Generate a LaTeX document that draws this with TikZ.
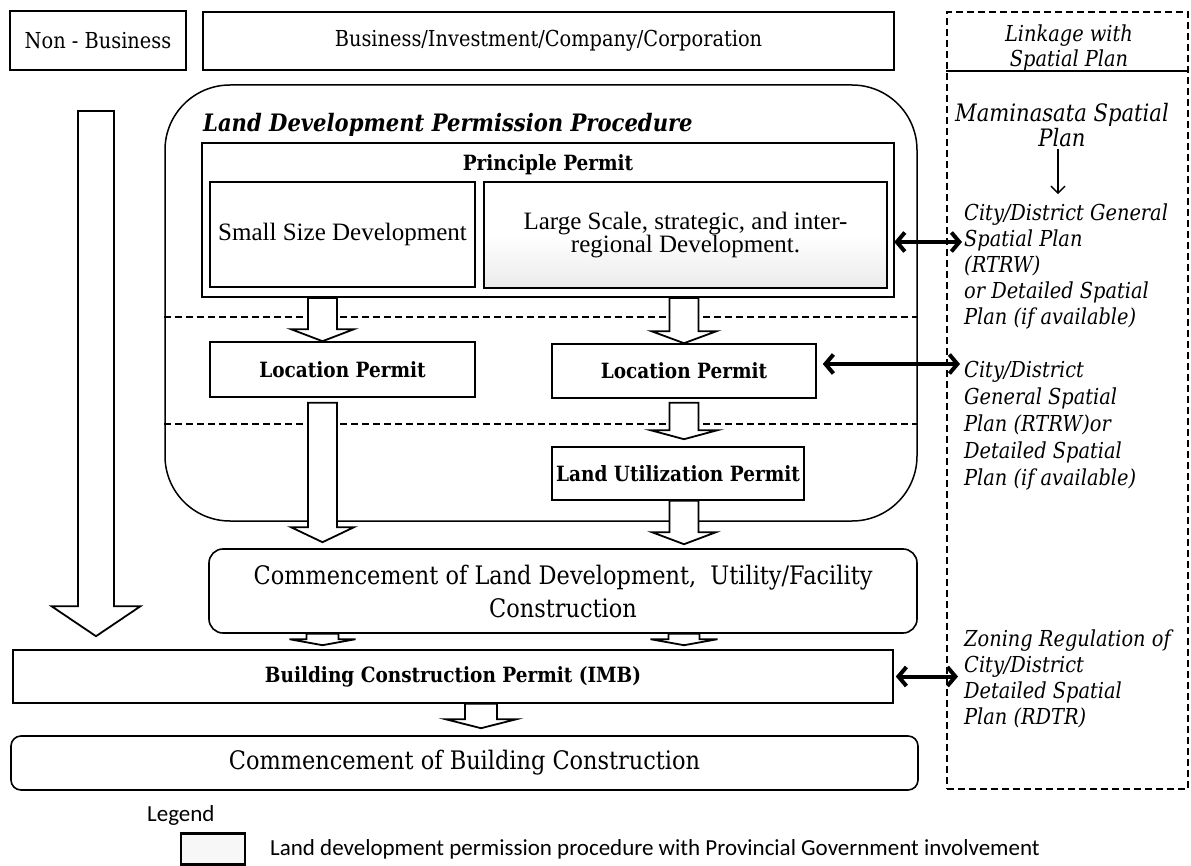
\documentclass[tikz,border=0pt]{standalone}
\usepackage{fontspec}
\setmainfont{DejaVu Serif}[FakeStretch=0.88]
\newfontfamily\timesfont{Liberation Serif}
\newfontfamily\legendfont{Carlito}
\usetikzlibrary{calc,arrows.meta}
\newcommand\setfs[2]{\fontsize{#1}{#2}\selectfont}

% hollow block arrow: #1 top point, #2 tip, #3 shaft half width, #4 head half width, #5 head length
\newcommand\blockarr[5]{%
  \draw[blockline] let \p1=(#1), \p2=(#2) in
    ({\x1-#3},\y1) -- ({\x1-#3},{\y2+#5}) -- ({\x1-#4},{\y2+#5}) -- (\x1,\y2)
    -- ({\x1+#4},{\y2+#5}) -- ({\x1+#3},{\y2+#5}) -- ({\x1+#3},\y1) -- cycle;}

\begin{document}
\begin{tikzpicture}[x=1pt,y=-1pt,
  box/.style={draw, line width=2pt, inner sep=0pt, align=center},
  thinbox/.style={draw, line width=1.6pt, inner sep=0pt, align=center},
  boldtxt/.style={font=\bfseries\setfs{21}{25}},
  plaintxt/.style={font=\setfs{25.5}{33}},
  sidetxt/.style={font=\itshape\setfs{22}{26}, inner sep=0pt, align=left},
  blockline/.style={draw, fill=white, line width=1.8pt, line join=miter},
  sepdash/.style={line width=1.6pt, dash pattern=on 7pt off 4pt},
  linkarrow/.style={line width=4pt, {Straight Barb[length=8pt,width=19pt]}-{Straight Barb[length=8pt,width=19pt]}},
  thinarrow/.style={line width=1.5pt, -{Straight Barb[length=7pt,width=14pt]}}]

\useasboundingbox (0,0) rectangle (1191,866);

% top row
\node[box, minimum width=176, minimum height=59, font=\setfs{22}{26}] (nonbiz) at (98,40.5) {Non - Business};
\node[box, minimum width=691, minimum height=58, font=\setfs{22}{26}] (biz) at (548.5,41) {Business/Investment/Company/Corporation};

% linkage column
\node[draw, line width=1.8pt, dash pattern=on 7pt off 4pt, minimum width=241, minimum height=777, inner sep=0pt] (link) at (1067.5,400.5) {};
\draw[line width=1.8pt] (link.west |- 0,71) -- (link.east |- 0,71);
\node[sidetxt, align=center, font=\itshape\setfs{22}{25}] (linktitle) at (1069,47.5) {Linkage with\\Spatial Plan};
\node[sidetxt, align=center, font=\itshape\setfs{24}{25}] (mamin) at (1062,125.5) {Maminasata Spatial\\Plan};
\node[sidetxt, anchor=west] (group1) at (964,266) {City/District General\\Spatial Plan\\(RTRW)\\or Detailed Spatial\\Plan (if available)};
\node[sidetxt, anchor=west, font=\itshape\setfs{22}{27}] (group2) at (964,426) {City/District\\General Spatial\\Plan (RTRW)or\\Detailed Spatial\\Plan (if available)};
\node[sidetxt, anchor=west] (group3) at (964,678.5) {Zoning Regulation of\\City/District\\Detailed Spatial\\Plan (RDTR)};
\draw[thinarrow] ($(mamin.south)+(-4,2)$) -- ($(group1.north -| mamin.south)+(-4,-9)$);

% land development permission procedure
\node[draw, line width=1.5pt, rounded corners=65pt, minimum width=752, minimum height=436, inner sep=0pt] (ldpp) at (541,303) {};
\node[anchor=west, inner sep=0pt, font=\bfseries\itshape\setfs{24}{28}] (ldpptitle) at (203,125) {Land Development Permission Procedure};
\node[box, minimum width=692, minimum height=154] (princ) at (548,220) {};
\node[boldtxt] (princtitle) at (548,165) {Principle Permit};
\node[thinbox, minimum width=265, minimum height=105, font=\timesfont\setfs{25}{23}] (small) at (342.5,234.5) {Small Size Development};
\node[box, line width=2.4pt, minimum width=403, minimum height=106, top color=white, bottom color=black!8, middle color=white, font=\timesfont\setfs{25}{23}] (large) at (685.5,235) {Large Scale, strategic, and inter-\\regional Development.};

\draw[sepdash] (ldpp.west |- 0,317) -- (ldpp.east |- 0,317);
\draw[sepdash] (ldpp.west |- 0,424) -- (ldpp.east |- 0,424);

\node[thinbox, boldtxt, minimum width=265, minimum height=55] (locL) at (342.5,369.5) {Location Permit};
\node[thinbox, boldtxt, minimum width=264, minimum height=54] (locR) at (684,371) {Location Permit};
\node[thinbox, boldtxt, minimum width=252, minimum height=53] (landutil) at (678,473.5) {Land Utilization Permit};

% lower part
\node[thinbox, plaintxt, rounded corners=14pt, minimum width=708, minimum height=84] (commL) at (563,591) {Commencement of Land Development,\ \ Utility/Facility\\Construction};
\node[thinbox, boldtxt, minimum width=880, minimum height=53] (imb) at (453,676.5) {Building Construction Permit (IMB)};
\node[thinbox, plaintxt, rounded corners=10pt, minimum width=907, minimum height=54] (bldg) at (464.5,763) {Commencement of Building Construction};

% block arrows
\blockarr{$(princ.south -| locL.north)+(-20,0)$}{$(locL.north)+(-20,0)$}{14.5pt}{31.5pt}{12pt}
\blockarr{princ.south -| locR.north}{locR.north}{14.5pt}{32.5pt}{12pt}
\blockarr{$(locL.south)+(-20,5)$}{$(commL.north -| locL.south)+(-20,-6)$}{14.5pt}{31.5pt}{15pt}
\blockarr{$(locR.south)+(0,4)$}{$(landutil.north -| locR.south)+(0,-7)$}{14.5pt}{33.5pt}{9pt}
\blockarr{landutil.south -| locR.south}{$(commL.north -| locR.south)+(0,-4)$}{14.5pt}{32pt}{12pt}
\blockarr{$(commL.south -| locL.south)+(-20,0)$}{$(imb.north -| locL.south)+(-20,-4)$}{16pt}{33pt}{6pt}
\blockarr{commL.south -| locR.south}{$(imb.north -| locR.south)+(0,-4)$}{15.5pt}{33.5pt}{6pt}
\blockarr{$(imb.south)+(28,0)$}{$(bldg.north -| imb.south)+(28,-7)$}{16pt}{35.5pt}{9pt}
\blockarr{$(nonbiz.south)+(-2,40)$}{$(imb.north -| nonbiz.south)+(-2,-13)$}{18pt}{44.5pt}{30pt}

% links to the spatial plans
\draw[linkarrow] ($(large.east)+(6,7)$) -- ($(large.east -| group1.west)+(-2,7)$);
\draw[linkarrow] ($(locR.east)+(6,-7)$) -- ($(locR.east -| group2.west)+(-4,-7)$);
\draw[linkarrow] ($(imb.east)+(2,0)$) -- ($(imb.east -| group3.west)+(-6,0)$);

% legend
\node[anchor=west, inner sep=0pt, font=\legendfont\setfs{23}{26}] (legendtitle) at (147,815) {Legend};
\node[draw, line width=2.5pt, fill=black!3, minimum width=64, minimum height=31, inner sep=0pt] (legendbox) at (213,849) {};
\node[anchor=west, inner sep=0pt, font=\legendfont\setfs{23}{26}] (legendtext) at (270,849) {Land development permission procedure with Provincial Government involvement};
\end{tikzpicture}
\end{document}
